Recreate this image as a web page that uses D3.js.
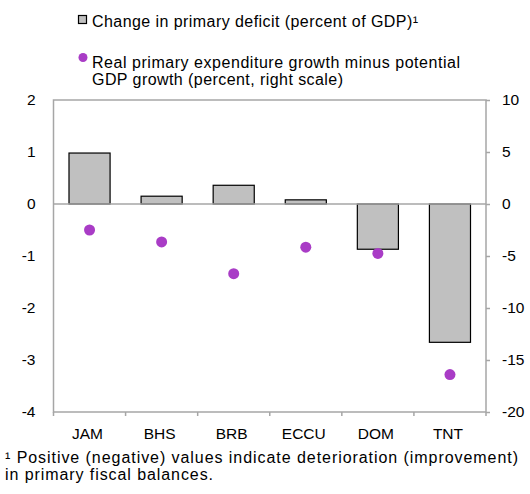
<!DOCTYPE html>
<html>
<head>
<meta charset="utf-8">
<script src="https://cdn.jsdelivr.net/npm/d3@7"></script>
<style>
  body { margin: 0; background: #fff; }
  text { font-family: "Liberation Sans", Arial, sans-serif; fill: #000; }
</style>
</head>
<body>
<div id="chart"></div>
<script>
// data
let countries = ["JAM", "BHS", "BRB", "ECCU", "DOM", "TNT"];
let deficitChange = [0.98, 0.15, 0.36, 0.08, -0.87, -2.66];   // left scale, bars
let expGrowthGap = [-2.5, -3.65, -6.7, -4.15, -4.75, -16.4];   // right scale, dots
let leftTicks = [-4, -3, -2, -1, 0, 1, 2];
let rightTicks = [-20, -15, -10, -5, 0, 5, 10];

let width = 530, height = 494;
let plotLeft = 53.5, plotRight = 486, plotTop = 100, plotBottom = 412;
let axisColor = "#a6a6a6";

let svg = d3.select("#chart").append("svg")
  .attr("width", width).attr("height", height);

let xScale = d3.scaleBand().domain(countries).range([plotLeft, plotRight]).paddingInner(0.43).paddingOuter(0.215);
let yLeft = d3.scaleLinear().domain([-4, 2]).range([plotBottom, plotTop]);
let yRight = d3.scaleLinear().domain([-20, 10]).range([plotBottom, plotTop]);

// bars
svg.append("g").selectAll("rect")
  .data(countries)
  .enter().append("rect")
  .attr("x", d => xScale(d))
  .attr("width", xScale.bandwidth())
  .attr("y", (d, i) => yLeft(Math.max(0, deficitChange[i])))
  .attr("height", (d, i) => Math.abs(yLeft(deficitChange[i]) - yLeft(0)))
  .attr("fill", "#c0c0c0")
  .attr("stroke", "#000")
  .attr("stroke-width", 1.2);

// frame and zero line
svg.append("rect").attr("x", plotLeft).attr("y", plotTop)
  .attr("width", plotRight - plotLeft).attr("height", plotBottom - plotTop)
  .attr("fill", "none").attr("stroke", axisColor).attr("stroke-width", 1.5);
svg.append("line").attr("x1", plotLeft).attr("x2", plotRight)
  .attr("y1", yLeft(0)).attr("y2", yLeft(0))
  .attr("stroke", axisColor).attr("stroke-width", 1.5);

// axes (plain hyphen for negatives, like the original)
let axLeft = svg.append("g").attr("transform", "translate(" + plotLeft + ",0)")
  .call(d3.axisLeft(yLeft).tickValues(leftTicks).tickSize(0).tickPadding(18).tickFormat(d => String(d)));
let axRight = svg.append("g").attr("transform", "translate(" + plotRight + ",0)")
  .call(d3.axisRight(yRight).tickValues(rightTicks).tickSize(4).tickPadding(12).tickFormat(d => String(d)));
let xTicks = countries.map(d => xScale(d) - xScale.step() * xScale.paddingInner() / 2);
xTicks.push(plotRight);
svg.append("g").selectAll("line")
  .data(xTicks)
  .enter().append("line")
  .attr("x1", d => d).attr("x2", d => d)
  .attr("y1", plotBottom).attr("y2", plotBottom + 4)
  .attr("stroke", axisColor).attr("stroke-width", 1.5);
svg.append("g").selectAll("text")
  .data(countries)
  .enter().append("text")
  .attr("x", d => xScale(d) + xScale.bandwidth() / 2 - 2)
  .attr("y", 439)
  .attr("text-anchor", "middle")
  .style("font-size", "15.5px")
  .text(d => d);

[axLeft, axRight].forEach(function(ax) {
  ax.select(".domain").remove();
  ax.selectAll(".tick line").attr("stroke", axisColor).attr("stroke-width", 1.5);
  ax.selectAll(".tick text").style("font-size", "15.5px").style("font-family", "Liberation Sans, Arial, sans-serif");
});

// dots
svg.append("g").selectAll("circle")
  .data(countries)
  .enter().append("circle")
  .attr("cx", d => xScale(d) + xScale.bandwidth() / 2)
  .attr("cy", (d, i) => yRight(expGrowthGap[i]))
  .attr("r", 5.5)
  .attr("fill", "#a93cc6");

// legend
svg.append("rect").attr("x", 78.5).attr("y", 15.5).attr("width", 8).attr("height", 8)
  .attr("fill", "#c0c0c0").attr("stroke", "#000").attr("stroke-width", 1.2);
svg.append("text").attr("x", 92).attr("y", 27).style("font-size", "16px")
  .attr("textLength", 326).attr("lengthAdjust", "spacing")
  .text("Change in primary deficit (percent of GDP)\u00b9");
svg.append("circle").attr("cx", 83).attr("cy", 57.5).attr("r", 4.5).attr("fill", "#a93cc6");
svg.append("text").attr("x", 92).attr("y", 68).style("font-size", "16px")
  .attr("textLength", 368).attr("lengthAdjust", "spacing")
  .text("Real primary expenditure growth minus potential");
svg.append("text").attr("x", 92).attr("y", 85).style("font-size", "16px")
  .attr("textLength", 251).attr("lengthAdjust", "spacing")
  .text("GDP growth (percent, right scale)");

// footnote
svg.append("text").attr("x", 5).attr("y", 463).style("font-size", "16px")
  .attr("textLength", 513).attr("lengthAdjust", "spacing")
  .text("\u00b9 Positive (negative) values indicate deterioration (improvement)");
svg.append("text").attr("x", 5).attr("y", 480).style("font-size", "16px")
  .attr("textLength", 208).attr("lengthAdjust", "spacing")
  .text("in primary fiscal balances.");
</script>
</body>
</html>
